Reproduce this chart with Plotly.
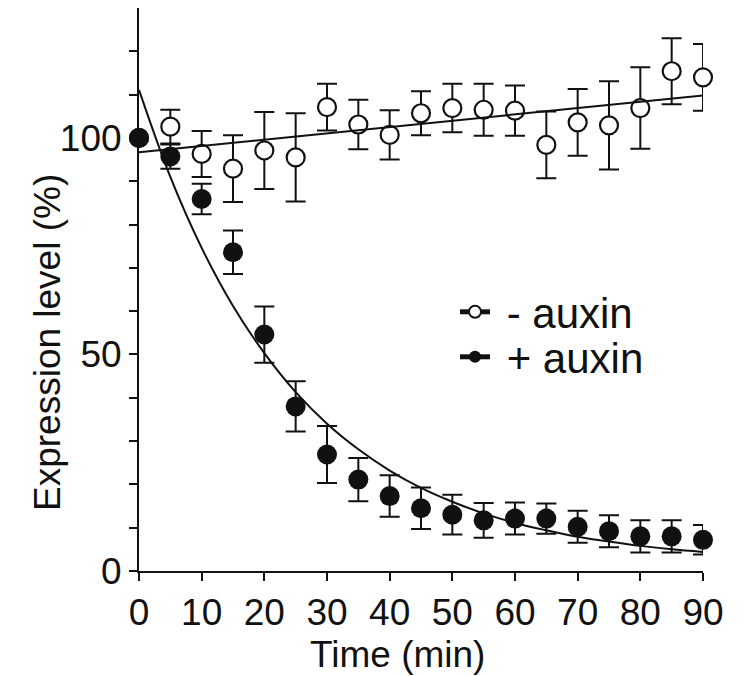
import plotly.graph_objects as go

# ---- data ----
time_min = [0, 5, 10, 15, 20, 25, 30, 35, 40, 45, 50, 55, 60, 65, 70, 75, 80, 85, 90]

minus_auxin = [100, 102.6, 96.3, 92.9, 97.1, 95.5, 107.1, 103.1, 100.7, 105.7,
               106.9, 106.5, 106.3, 98.4, 103.6, 102.9, 106.9, 115.4, 114.0]
minus_auxin_err = [0, 3.9, 5.3, 7.7, 8.9, 10.2, 5.4, 5.7, 5.7, 5.1,
                   5.6, 6.0, 5.8, 7.7, 7.7, 10.2, 9.4, 7.6, 7.7]

plus_auxin = [100, 95.7, 85.9, 73.6, 54.6, 38.0, 26.9, 21.1, 17.3, 14.5,
              13.0, 11.7, 12.1, 12.1, 10.2, 9.2, 8.0, 8.0, 7.2]
plus_auxin_err = [0, 2.8, 3.5, 5.0, 6.5, 5.8, 6.6, 5.0, 4.8, 4.8,
                  4.6, 4.0, 3.7, 3.5, 3.7, 3.7, 3.7, 3.7, 3.4]

# fitted curves
fit_minus_x = [0, 90]
fit_minus_y = [96.7, 109.8]
fit_plus_x = time_min
fit_plus_y = [111.1, 91.0, 74.6, 61.2, 50.3, 41.3, 34.0, 28.1, 23.2, 19.2,
              16.0, 13.3, 11.1, 9.4, 7.9, 6.8, 5.8, 5.0, 4.4]

x_ticks = [0, 10, 20, 30, 40, 50, 60, 70, 80, 90]
y_ticks = [0, 10, 20, 30, 40, 50, 60, 70, 80, 90, 100, 110, 120]
y_ticktext = ["0", "", "", "", "", "50", "", "", "", "", "100", "", ""]

legend_labels = [" - auxin", " + auxin"]

FONT = "Liberation Sans, Arial, sans-serif"
INK = "#111111"

fig = go.Figure()

# - auxin points (open circles)
fig.add_trace(go.Scatter(
    x=time_min, y=minus_auxin, mode="markers", showlegend=False, cliponaxis=False,
    marker=dict(symbol="circle", size=18, color="white", line=dict(color=INK, width=2.2)),
    error_y=dict(type="data", array=minus_auxin_err, visible=True, color=INK, thickness=2, width=10),
))
# + auxin points (filled circles)
fig.add_trace(go.Scatter(
    x=time_min, y=plus_auxin, mode="markers", showlegend=False, cliponaxis=False,
    marker=dict(symbol="circle", size=20, color=INK, line=dict(width=0)),
    error_y=dict(type="data", array=plus_auxin_err, visible=True, color=INK, thickness=2, width=10),
))
# fit lines
fig.add_trace(go.Scatter(
    x=fit_minus_x, y=fit_minus_y, mode="lines", showlegend=False,
    line=dict(color=INK, width=2),
))
fig.add_trace(go.Scatter(
    x=fit_plus_x, y=fit_plus_y, mode="lines", showlegend=False,
    line=dict(color=INK, width=2, shape="spline", smoothing=1.0),
))
# legend entries (one legend each, for exact row spacing)
fig.add_trace(go.Scatter(
    x=[None], y=[None], mode="lines+markers", name=legend_labels[0], legend="legend",
    marker=dict(symbol="circle", size=16, color="white", line=dict(color=INK, width=2)),
    line=dict(color=INK, width=1.5),
))
fig.add_trace(go.Scatter(
    x=[None], y=[None], mode="lines+markers", name=legend_labels[1], legend="legend2",
    marker=dict(symbol="circle", size=16, color=INK, line=dict(width=0)),
    line=dict(color=INK, width=1.5),
))

L, R, T, B = 139, 49, 8, 105
W, H = 752, 676
pw, ph = W - L - R, H - T - B

def px_x(p):
    return (p - L) / pw

def px_y(p):
    return (H - B - p) / ph

LEG_FONT = dict(family=FONT, size=42, color=INK)

def legend_at(cx, cy):
    return dict(
        x=px_x(cx), y=px_y(cy), xanchor="left", yanchor="middle",
        font=LEG_FONT, bgcolor="rgba(0,0,0,0)", borderwidth=0,
        tracegroupgap=0, itemsizing="constant",
    )

fig.update_layout(
    width=W, height=H,
    margin=dict(l=L, r=R, t=T, b=B, pad=0),
    paper_bgcolor="white", plot_bgcolor="white",
    font=dict(family=FONT, size=37, color=INK),
    showlegend=True,
    legend=legend_at(455, 312),
    legend2=legend_at(455, 357),
    xaxis=dict(
        range=[0, 90], tickmode="array", tickvals=x_ticks,
        ticks="outside", ticklen=8, tickwidth=2, tickcolor=INK,
        showline=True, linewidth=2, linecolor=INK,
        showgrid=False, zeroline=False,
        tickfont=dict(family=FONT, size=37, color=INK),
    ),
    yaxis=dict(
        range=[0, 130], tickmode="array", tickvals=y_ticks, ticktext=y_ticktext,
        ticks="outside", ticklen=8, tickwidth=2, tickcolor=INK,
        showline=True, linewidth=2, linecolor=INK,
        showgrid=False, zeroline=False,
        tickfont=dict(family=FONT, size=37, color=INK),
    ),
    annotations=[
        dict(text="Time (min)", xref="paper", yref="paper",
             x=px_x(397), y=px_y(654), xanchor="center", yanchor="middle",
             showarrow=False, font=dict(family=FONT, size=37, color=INK)),
        dict(text="Expression level (%)", xref="paper", yref="paper",
             x=px_x(47), y=px_y(342), xanchor="center", yanchor="middle",
             textangle=-90, showarrow=False, font=dict(family=FONT, size=37, color=INK)),
    ],
)

fig.write_html("out.html", config={"displayModeBar": False},
               post_script="document.body.style.margin='0';")
